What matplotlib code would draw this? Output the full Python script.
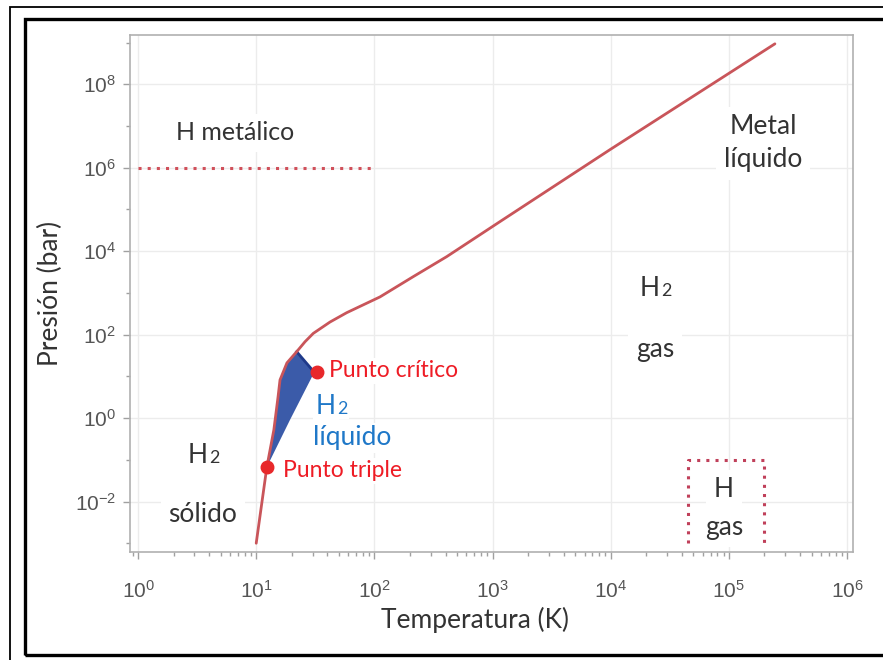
import numpy as np
import matplotlib
matplotlib.use("Agg")
import matplotlib.pyplot as plt
from matplotlib.ticker import LogLocator, FixedLocator, NullFormatter
from matplotlib.patches import Rectangle
from matplotlib.transforms import offset_copy

plt.rcParams["axes.unicode_minus"] = False

# Phase boundary of hydrogen (temperature in K, pressure in bar)
boundary_T = [10.0, 12.3, 14.1, 15.3, 15.9, 18.2, 22.0, 25.9, 30.4, 42.1, 58.3, 111.5,
              213.0, 409.0, 1155.0, 9840.0, 2.45e5]
boundary_P = [1e-3, 0.067, 0.52, 3.2, 8.2, 21.0, 38.9, 67.6, 107.0, 200.0, 335.0, 800.0,
              2445.0, 7380.0, 5.1e4, 2.7e6, 9.3e8]

# Liquid region: melting curve from triple point up, then back along vaporization curve
liquid_T = [12.3, 14.1, 15.3, 15.9, 18.2, 22.0, 31.0, 19.3, 12.3]
liquid_P = [0.067, 0.52, 3.2, 8.2, 21.0, 38.9, 12.5, 0.9, 0.067]

triple_point = (12.3, 0.067)
critical_point = (33.0, 12.5)

# Metallic hydrogen boundary and atomic gas box
metal_T = [1.0, 100.0]
metal_P = [1e6, 1e6]
hgas_T = [4.5e4, 4.5e4, 2.0e5, 2.0e5]
hgas_P = [1e-3, 0.1, 0.1, 1e-3]

W, H = 883, 660
fig = plt.figure(figsize=(W / 100, H / 100), dpi=100)

# Double frame around the figure
fig.patches.append(Rectangle((10 / W, -0.05), 1.2, (H - 7) / H + 0.05, transform=fig.transFigure,
                             fill=False, ec="black", lw=1.3, zorder=10))
fig.patches.append(Rectangle((25 / W, 1 - 655 / H), 1.2, (655 - 19) / H, transform=fig.transFigure,
                             fill=False, ec="black", lw=2.4, zorder=10))

ax = fig.add_axes([130 / W, 1 - 552 / H, (853 - 130) / W, (552 - 35) / H])
ax.set_xscale("log")
ax.set_yscale("log")
ax.set_xlim(10 ** -0.068, 10 ** 6.05)
ax.set_ylim(10 ** -3.21, 10 ** 9.18)

for s in ax.spines.values():
    s.set_color("#b0b0b0")
    s.set_linewidth(1.2)

ax.xaxis.set_major_locator(FixedLocator([10.0 ** k for k in range(0, 7)]))
ax.xaxis.set_minor_locator(LogLocator(base=10, subs=np.arange(2, 10)))
ax.xaxis.set_minor_formatter(NullFormatter())
ax.yaxis.set_major_locator(FixedLocator([10.0 ** k for k in range(-2, 9, 2)]))
ax.yaxis.set_minor_locator(FixedLocator([10.0 ** k for k in range(-3, 10, 2)]))
ax.yaxis.set_minor_formatter(NullFormatter())

ax.tick_params(axis="both", which="major", length=5, width=1, color="#a0a0a0",
               labelsize=15, labelcolor="#555555", labelfontfamily="Liberation Sans")
ax.tick_params(axis="x", which="major", pad=15)
ax.tick_params(axis="y", which="major", pad=5)
ax.tick_params(axis="both", which="minor", length=3, width=1, color="#a0a0a0")

ax.grid(True, which="major", color="#ececec", lw=1.0, zorder=0)
ax.set_axisbelow(True)

label_font = ["Lato", "DejaVu Sans"]
ax.set_xlabel("Temperatura (K)", fontsize=19, color="#333333", family=label_font)
ax.set_ylabel("Presión (bar)", fontsize=19, color="#333333", family=label_font)
ax.xaxis.set_label_coords((475 - 130) / 723, -(607 - 552) / 517)
ax.yaxis.set_label_coords((63 - 130) / 723, 0.5)

curve_color = "#c9555a"
ax.fill(liquid_T, liquid_P, color="#3b5ba9", zorder=3, lw=0)
ax.plot([22.0, 31.0], [38.9, 12.5], color="#1f3a8a", lw=2.0, zorder=4)
ax.plot(boundary_T, boundary_P, color=curve_color, lw=2.0, zorder=5,
        solid_joinstyle="round", solid_capstyle="round")
ax.plot(metal_T, metal_P, color="#d0505a", lw=2.2, ls=(0, (1, 2)), zorder=5)
ax.plot(hgas_T, hgas_P, color="#c0405a", lw=2.2, ls=(0, (1, 2)), zorder=5)
ax.plot(*triple_point, "o", color="#e8282a", ms=9, zorder=6)
ax.plot(*critical_point, "o", color="#e8282a", ms=9, zorder=6)


def axpos(px, py):
    return (px - 130) / 723, (552 - py) / 517


def label(px, py, s, color="#333333", size=19, ha="center", pad=0.3):
    ax.text(*axpos(px, py), s, transform=ax.transAxes,
            ha=ha, va="center", fontsize=size, color=color, family=label_font,
            bbox=dict(boxstyle="square,pad=%g" % pad, fc="white", ec="none"), zorder=2)


def label_h2(px, py, color="#333333", size=19, pad=0.3):
    # "H" followed by a smaller "2" on the same baseline
    x, y = axpos(px, py + 0.36 * size * 100 / 72)
    base = ax.transAxes
    ax.text(x, y, "H", transform=offset_copy(base, fig=fig, x=3.5, y=0, units="points"),
            ha="right", va="baseline", fontsize=size, color=color, family=label_font,
            bbox=dict(boxstyle="square,pad=%g" % pad, fc="white", ec="none"), zorder=2)
    ax.text(x, y, "2", transform=offset_copy(base, fig=fig, x=4.5, y=0, units="points"),
            ha="left", va="baseline", fontsize=size * 0.68, color=color, family=label_font,
            bbox=dict(boxstyle="square,pad=0.1", fc="white", ec="none"), zorder=2)


label(235, 133, "H metálico", size=18)
label(763, 127, "Metal")
label(763, 160, "líquido")
label_h2(655, 287)
label(655, 350, "gas")
label_h2(203, 454)
label(203, 515, "sólido")
label_h2(331, 405, color="#1f78c8", pad=0.1)
label(352, 438, "líquido", color="#1f78c8", pad=0.1)
label(329, 371, "Punto crítico", color="#ee1c25", size=16.5, ha="left", pad=0.1)
label(283, 471, "Punto triple", color="#ee1c25", size=16.5, ha="left", pad=0.1)
label(724, 490, "H")
label(724, 527, "gas")

fig.savefig("out.png", dpi=100)
